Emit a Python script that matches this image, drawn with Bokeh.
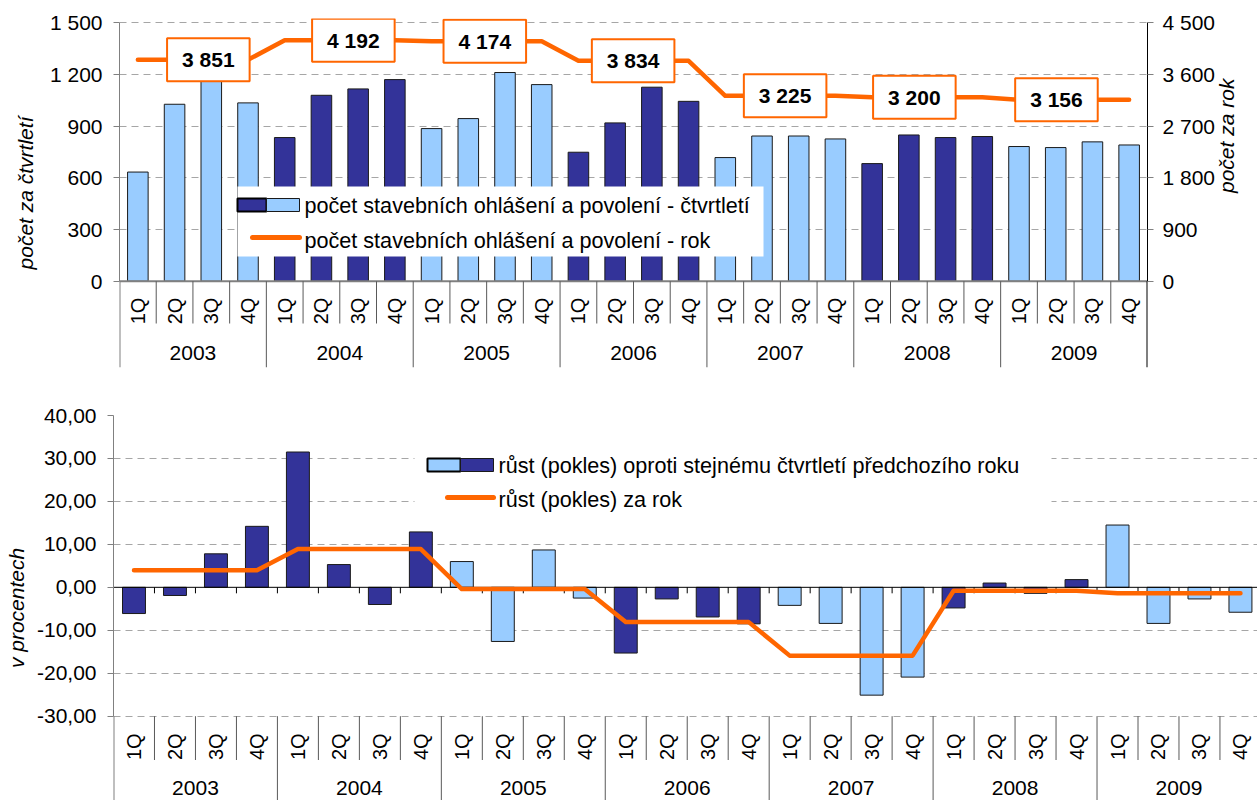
import math
from bokeh.plotting import figure
from bokeh.models import Range1d, LinearAxis, FixedTicker, ColumnDataSource
from bokeh.embed import file_html
from bokeh.resources import INLINE
from bokeh.core.properties import value

# ---------------- data ----------------
years = ["2003", "2004", "2005", "2006", "2007", "2008", "2009"]
quarters = ["1Q", "2Q", "3Q", "4Q"]

count_quarter = [633, 1026, 1161, 1034,
                 833, 1078, 1115, 1169,
                 885, 943, 1210, 1140,
                 748, 918, 1125, 1043,
                 717, 842, 842, 825,
                 682, 848, 833, 839,
                 781, 775, 808, 790]
count_year = [3851, 4192, 4174, 3834, 3225, 3200, 3156]

growth_quarter = [-6.1, -1.9, 7.8, 14.2,
                  31.5, 5.3, -4.0, 12.9,
                  6.0, -12.6, 8.7, -2.5,
                  -15.3, -2.7, -6.9, -8.5,
                  -4.2, -8.4, -25.1, -20.9,
                  -4.8, 1.0, -1.4, 1.8,
                  14.5, -8.4, -2.7, -5.8]
growth_year = [4.0, 8.9, -0.4, -8.1, -15.9, -0.8, -1.4]

left_ticks_top = [0, 300, 600, 900, 1200, 1500]
right_ticks_top = [0, 900, 1800, 2700, 3600, 4500]
ticks_bottom = [-30, -20, -10, 0, 10, 20, 30, 40]

legend_top = ["počet stavebních ohlášení a povolení - čtvrtletí",
              "počet stavebních ohlášení a povolení - rok"]
legend_bottom = ["růst (pokles) oproti stejnému čtvrtletí předchozího roku",
                 "růst (pokles) za rok"]

# ---------------- style ----------------
DARK = "#333399"
LIGHT = "#99CCFF"
ORANGE = "#FF6600"
GRID = "#A6A6A6"
SEP = "#595959"
FONT_NAME = "Liberation Sans"
FONT = value(FONT_NAME)
FS = "21px"
FS_LEG = "21.6px"
top_year_colors = [LIGHT, DARK, LIGHT, DARK, LIGHT, DARK, LIGHT]
bot_year_colors = [DARK, DARK, LIGHT, DARK, LIGHT, DARK, LIGHT]
label_offsets = [2.42, 2.37, 1.95, 1.99, 2.13, 1.65, 1.52]   # label placement inside each year
BAR_W = 0.56

n = len(years) * len(quarters)
xs = [i + 0.5 for i in range(n)]
q_labels = [q for _ in years for q in quarters]
year_x = [i * 4 + 2 for i in range(len(years))]
inner_b = [b for b in range(1, n) if b % 4 != 0]
year_b = [b for b in range(4, n, 4)]


def fmt_space(v):
    return f"{v:,}".replace(",", " ")


def fmt_pct(v):
    return f"{v:.2f}".replace(".", ",")


def style_axis(ax, color):
    ax.major_tick_out = 6
    ax.major_tick_in = 0
    ax.minor_tick_out = 0
    ax.minor_tick_in = 0
    ax.axis_line_color = color
    ax.major_tick_line_color = color
    ax.major_label_text_font = FONT_NAME
    ax.major_label_text_font_size = FS
    ax.major_label_text_color = "black"
    ax.major_label_standoff = 11
    ax.axis_label_text_font = FONT_NAME
    ax.axis_label_text_font_size = FS
    ax.axis_label_text_font_style = "italic"
    ax.axis_label_text_color = "black"
    ax.axis_label_standoff = 10


# ================= TOP CHART =================
T_PX = 1028 / 28.0       # px per category
T_PY = 345 / 2000.0      # px per unit
T_X0, T_Y0 = 119, 22 + 1500 * T_PY
T_HEAD = 4               # extra px above the 1500 line so label boxes are not clipped


def tpx(px):
    return (px - T_X0) / T_PX


def tpy(py):
    return (T_Y0 - py) / T_PY


top_end = 1500 + T_HEAD / T_PY
top = figure(width=1257, height=383, x_range=Range1d(0, 28), y_range=Range1d(-500, top_end),
             x_axis_location=None, y_axis_location="left", title=None,
             output_backend="svg", toolbar_location=None,
             min_border_left=119, min_border_right=110, min_border_top=22 - T_HEAD,
             min_border_bottom=16)
top.outline_line_color = None
top.xgrid.visible = False
top.ygrid.ticker = FixedTicker(ticks=left_ticks_top[1:])
top.ygrid.grid_line_color = GRID
top.ygrid.grid_line_dash = "7 5"

la = top.yaxis[0]
la.ticker = FixedTicker(ticks=left_ticks_top)
la.major_label_overrides = {t: fmt_space(t) for t in left_ticks_top}
la.bounds = (0, 1500)
la.axis_label = "počet za čtvrtletí"
style_axis(la, "#808080")

top.extra_y_ranges = {"rok": Range1d(-1500, top_end * 3)}
ra = LinearAxis(y_range_name="rok", ticker=FixedTicker(ticks=right_ticks_top))
ra.major_label_overrides = {t: fmt_space(t) for t in right_ticks_top}
ra.bounds = (0, 4500)
ra.axis_label = "počet za rok"
style_axis(ra, "black")
ra.major_tick_line_color = "#808080"
ra.major_label_standoff = 9
ra.axis_label_standoff = 8
ra.axis_label_orientation = math.pi / 2
top.add_layout(ra, "right")

top_colors = [c for c in top_year_colors for _ in quarters]
top.vbar(x=xs, top=count_quarter, bottom=0, width=BAR_W, fill_color=top_colors,
         line_color="#1a1a1a", line_width=1)

# category axis drawn inside frame
top.segment(x0=[0], y0=[0], x1=[28], y1=[0], line_color="#808080", line_width=2)
top.segment(x0=inner_b, y0=[0] * len(inner_b), x1=inner_b, y1=[-245] * len(inner_b),
            line_color=SEP, line_width=1)
top.segment(x0=year_b, y0=[0] * len(year_b), x1=year_b, y1=[-500] * len(year_b),
            line_color=SEP, line_width=1)
top.segment(x0=[0], y0=[0], x1=[0], y1=[-500], line_color="#808080", line_width=2)
top.segment(x0=[28], y0=[0], x1=[28], y1=[-500], line_color="black", line_width=2)
top.text(x=xs, y=[-172] * n, text=q_labels, angle=math.pi / 2, text_align="center",
         text_baseline="middle", text_font=FONT, text_font_size="20px", text_color="black")
top.text(x=year_x, y=[-417] * len(years), text=years, text_align="center",
         text_baseline="middle", text_font=FONT, text_font_size=FS, text_color="black")

line_top = [v for v in count_year for _ in quarters]
top.line(x=xs, y=line_top, y_range_name="rok", line_color=ORANGE, line_width=4.5,
         line_join="round", line_cap="round")

lab_src = ColumnDataSource(dict(
    x=[i * 4 + o for i, o in enumerate(label_offsets)],
    y=count_year,
    t=[fmt_space(v) for v in count_year]))
top.text(x="x", y="y", text="t", source=lab_src, y_range_name="rok",
         text_align="center", text_baseline="middle", text_font=FONT,
         text_font_size=FS, text_font_style="bold", text_color="black",
         background_fill_color="white", border_line_color=ORANGE, border_line_width=2,
         padding=(15, 10))

# legend (top)
top.quad(left=[tpx(237)], right=[tpx(763)], top=[tpy(186)], bottom=[tpy(256)],
         fill_color="white", line_color=None, level="overlay")
top.quad(left=[tpx(237)], right=[tpx(266)], top=[tpy(198)], bottom=[tpy(211)],
         fill_color=DARK, line_color="black", line_width=2, level="overlay")
top.quad(left=[tpx(266)], right=[tpx(299)], top=[tpy(198)], bottom=[tpy(211)],
         fill_color=LIGHT, line_color="#1a1a1a", line_width=1, level="overlay")
top.line(x=[tpx(252), tpx(299)], y=[tpy(237), tpy(237)], line_color=ORANGE, line_width=5,
         line_cap="round", level="overlay")
top.text(x=[tpx(304), tpx(304)], y=[tpy(205), tpy(240)], text=legend_top,
         text_align="left", text_baseline="middle", text_font=FONT, text_font_size=FS_LEG,
         text_color="black", level="overlay")

# ================= BOTTOM CHART =================
B_PX = 40.98
B_PY = 4.2957
B_X0, B_Y0 = 113, 32 + 40 * B_PY   # relative to the bottom figure's own top


def bpx(px):
    return (px - B_X0) / B_PX


def bpy(py):
    # py given in page pixels; bottom figure starts at page y 383
    return (B_Y0 - (py - 383)) / B_PY


b_ymin = 40 - 385 / B_PY
bot = figure(width=1257, height=417, x_range=Range1d(0, 1144 / B_PX), y_range=Range1d(b_ymin, 40),
             x_axis_location=None, y_axis_location="left", title=None,
             output_backend="svg", toolbar_location=None,
             min_border_left=113, min_border_right=0, min_border_top=32, min_border_bottom=0)
bot.outline_line_color = None
bot.xgrid.visible = False
bot.ygrid.ticker = FixedTicker(ticks=[t for t in ticks_bottom if t != 0])
bot.ygrid.grid_line_color = GRID
bot.ygrid.grid_line_dash = "7 5"

ba = bot.yaxis[0]
ba.ticker = FixedTicker(ticks=ticks_bottom)
ba.major_label_overrides = {t: fmt_pct(t) for t in ticks_bottom}
ba.bounds = (-30, 40)
ba.axis_label = "v procentech"
style_axis(ba, "#808080")
ba.axis_label_standoff = 6

bot_colors = [c for c in bot_year_colors for _ in quarters]
bot.vbar(x=xs, top=growth_quarter, bottom=0, width=BAR_W, fill_color=bot_colors,
         line_color="#1a1a1a", line_width=1)

bot.segment(x0=[0], y0=[0], x1=[28], y1=[0], line_color="black", line_width=1)
allb = list(range(1, n))
bot.segment(x0=allb, y0=[0] * len(allb), x1=allb, y1=[-6 / B_PY] * len(allb),
            line_color="black", line_width=1)
bot.segment(x0=inner_b, y0=[-30] * len(inner_b), x1=inner_b, y1=[-40.2] * len(inner_b),
            line_color=SEP, line_width=1)
bot.segment(x0=year_b, y0=[-30] * len(year_b), x1=year_b, y1=[b_ymin] * len(year_b),
            line_color=SEP, line_width=1)
bot.segment(x0=[0], y0=[-30], x1=[0], y1=[b_ymin], line_color="#808080", line_width=2)
bot.text(x=xs, y=[-37.1] * n, text=q_labels, angle=math.pi / 2, text_align="center",
         text_baseline="middle", text_font=FONT, text_font_size="20px", text_color="black")
bot.text(x=year_x, y=[-46.8] * len(years), text=years, text_align="center",
         text_baseline="middle", text_font=FONT, text_font_size=FS, text_color="black")

line_bot = [v for v in growth_year for _ in quarters]
bot.line(x=xs, y=line_bot, line_color=ORANGE, line_width=4.5, line_join="round", line_cap="round")

# legend (bottom)
bot.quad(left=[bpx(414)], right=[bpx(1051)], top=[bpy(440)], bottom=[bpy(520)],
         fill_color="white", line_color=None, level="overlay")
bot.quad(left=[bpx(427)], right=[bpx(460)], top=[bpy(458)], bottom=[bpy(471)],
         fill_color=LIGHT, line_color="black", line_width=2, level="overlay")
bot.quad(left=[bpx(460)], right=[bpx(493)], top=[bpy(458)], bottom=[bpy(471)],
         fill_color=DARK, line_color="#1a1a1a", line_width=1, level="overlay")
bot.line(x=[bpx(447), bpx(493)], y=[bpy(497), bpy(497)], line_color=ORANGE, line_width=5,
         line_cap="round", level="overlay")
bot.text(x=[bpx(498), bpx(498)], y=[bpy(465), bpy(499)], text=legend_bottom,
         text_align="left", text_baseline="middle", text_font=FONT, text_font_size=FS_LEG,
         text_color="black", level="overlay")

# two independent roots so that the two plot frames are not aligned to each other
open("out.html", "w").write(file_html([top, bot], INLINE))
